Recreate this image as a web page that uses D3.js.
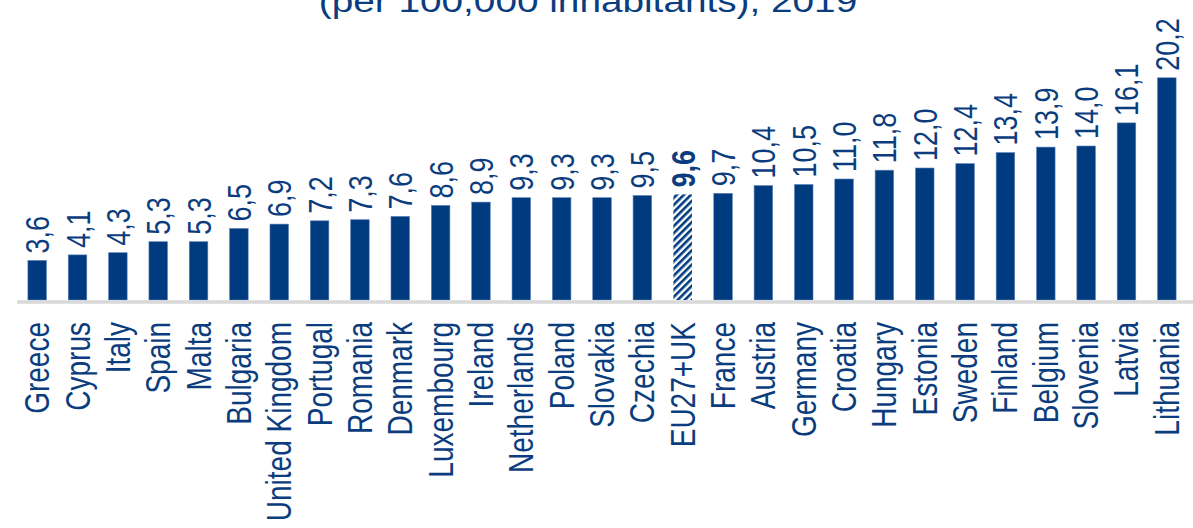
<!DOCTYPE html>
<html>
<head>
<meta charset="utf-8">
<script src="https://cdn.jsdelivr.net/npm/d3@7"></script>
<style>
  body { margin: 0; background: #fff; }
  svg text { font-family: "Liberation Sans", Arial, sans-serif; fill: #0b3d7e; }
</style>
</head>
<body>
<div id="chartArea"></div>
<script>
const width = 1193;
const height = 528;

const countries = ["Greece", "Cyprus", "Italy", "Spain", "Malta", "Bulgaria", "United Kingdom",
    "Portugal", "Romania", "Denmark", "Luxembourg", "Ireland", "Netherlands", "Poland", "Slovakia",
    "Czechia", "EU27+UK", "France", "Austria", "Germany", "Croatia", "Hungary", "Estonia", "Sweden",
    "Finland", "Belgium", "Slovenia", "Latvia", "Lithuania"];
const values = [3.6, 4.1, 4.3, 5.3, 5.3, 6.5, 6.9, 7.2, 7.3, 7.6, 8.6, 8.9, 9.3, 9.3, 9.3,
    9.5, 9.6, 9.7, 10.4, 10.5, 11.0, 11.8, 12.0, 12.4, 13.4, 13.9, 14.0, 16.1, 20.2];
const highlight = "EU27+UK";
const titleText = "(per 100,000 inhabitants), 2019";

const data = countries.map((c, i) => ({ country: c, value: values[i] }));
const fmt = v => v.toFixed(1).replace(".", ",");
const stretch = 1.25; // glyphs in the source look wider than usual

const svg = d3.select("#chartArea")
    .append("svg")
    .attr("width", width)
    .attr("height", height);

// hatch for the EU average bar
const defs = svg.append("defs");
const pat = defs.append("pattern")
    .attr("id", "hatch")
    .attr("patternUnits", "userSpaceOnUse")
    .attr("width", 5)
    .attr("height", 5)
    .attr("patternTransform", "rotate(-45)");
pat.append("rect").attr("width", 5).attr("height", 5).attr("fill", "#fff");
pat.append("rect").attr("width", 5).attr("height", 2.6).attr("fill", "#003b80");

const x = d3.scaleBand()
    .domain(countries)
    .range([17, 1187])
    .paddingInner(0.54)
    .paddingOuter(0.27);

const y = d3.scaleLinear()
    .domain([0, 20])
    .range([300, 80]);

svg.append("text")
    .attr("text-anchor", "middle")
    .attr("font-size", "31px")
    .attr("transform", `translate(588,12) scale(${stretch},1)`)
    .text(titleText);

svg.append("g")
    .selectAll("rect")
    .data(data)
    .enter().append("rect")
    .attr("x", d => x(d.country))
    .attr("width", x.bandwidth())
    .attr("y", d => y(d.value))
    .attr("height", d => y(0) - y(d.value))
    .attr("fill", d => d.country === highlight ? "url(#hatch)" : "#003b80")
    .attr("stroke", d => d.country === highlight ? "none" : "#5d82b8")
    .attr("stroke-width", 0.6);

// baseline
svg.append("line")
    .attr("x1", 17)
    .attr("x2", width)
    .attr("y1", y(0) + 2)
    .attr("y2", y(0) + 2)
    .attr("stroke", "#d9d9d9")
    .attr("stroke-width", 3.5);

const cx = d => x(d.country) + x.bandwidth() / 2;

svg.append("g")
    .selectAll("text")
    .data(data)
    .enter().append("text")
    .attr("font-size", "27px")
    .attr("font-weight", d => d.country === highlight ? "bold" : "normal")
    .attr("text-anchor", "start")
    .attr("transform", d => `translate(${cx(d) + 12},${y(d.value) - 7}) scale(${stretch},1) rotate(-90)`)
    .text(d => fmt(d.value));

svg.append("g")
    .selectAll("text")
    .data(data)
    .enter().append("text")
    .attr("font-size", "28px")
    .attr("text-anchor", "end")
    .attr("transform", d => `translate(${cx(d) + 12},322) scale(${stretch},1) rotate(-90)`)
    .text(d => d.country);
</script>
</body>
</html>
